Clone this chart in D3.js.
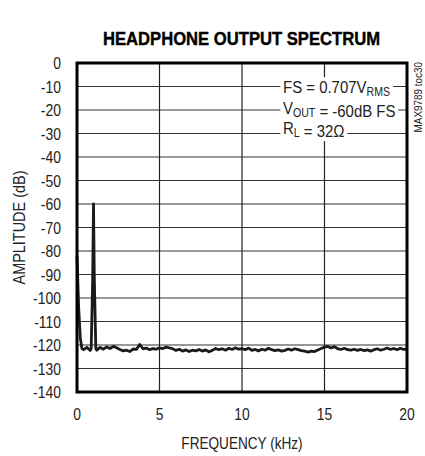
<!DOCTYPE html>
<html lang="en">
<head>
    <meta charset="UTF-8">
    <title>Headphone Output Spectrum</title>
    <script src="https://d3js.org/d3.v7.min.js"></script>
    <style>
        body { margin: 0; background: #fff; }
        text { font-family: "Liberation Sans", Arial, sans-serif; fill: #222; }
    </style>
</head>
<body>
<script>
    // tick values
    const xTicks = [0, 5, 10, 15, 20];
    const yTicks = [0, -10, -20, -30, -40, -50, -60, -70, -80, -90, -100, -110, -120, -130, -140];

    // DC roll-off at the left edge
    const dcFreq = [0, 0.1, 0.2, 0.3];
    const dcDb = [-82, -104, -117, -121.5];

    // 1kHz test tone
    const toneFreq = [0.86, 0.95, 1.0, 1.05, 1.14];
    const toneDb = [-121.5, -92, -60, -92, -121.5];

    // noise floor, read every 0.2kHz from 0.4kHz to 20kHz
    const noiseStart = 0.4;
    const noiseStep = 0.2;
    const noiseDb = [
        -122.0, -121.0, -122.3, -121.5, -122.2, -121.0, -121.8, -120.8, -121.5, -120.6,
        -121.2, -121.9, -122.5, -122.2, -122.8, -121.7, -121.9, -119.8, -121.6, -121.3,
        -122.0, -121.5, -121.8, -121.2, -121.5, -120.9, -121.2, -121.6, -122.3, -121.8,
        -122.6, -122.1, -122.8, -122.2, -122.5, -121.9, -122.6, -122.1, -122.9, -122.3,
        -121.5, -122.0, -121.6, -122.2, -121.4, -121.9, -121.2, -121.8, -121.5, -122.0,
        -121.3, -122.3, -121.9, -122.5, -121.8, -122.2, -121.4, -122.0, -122.4, -122.1,
        -122.6, -122.3, -121.7, -122.2, -121.6, -122.0, -122.4, -122.6, -123.0, -122.6,
        -122.8, -122.1, -121.5, -120.9, -120.6, -121.3, -120.7, -121.6, -121.9, -121.4,
        -122.0, -122.2, -121.8, -122.3, -121.9, -122.4, -122.1, -122.6, -122.0, -121.6,
        -122.2, -121.8, -121.3, -121.9, -121.5, -122.0, -121.4, -121.9, -121.7
    ];

    const width = 425;
    const height = 456;
    const margin = { top: 63, right: 18, bottom: 64, left: 77 };
    const plotW = width - margin.left - margin.right;
    const plotH = height - margin.top - margin.bottom;
    const squeeze = 0.82; // narrow the regular face to look condensed

    const svg = d3.select("body").append("svg")
        .attr("width", width)
        .attr("height", height);

    const x = d3.scaleLinear().domain([0, 20]).range([margin.left, margin.left + plotW]);
    const y = d3.scaleLinear().domain([0, -140]).range([margin.top, margin.top + plotH]);

    function narrowText(px, py, str, size, anchor, k) {
        return svg.append("text")
            .attr("transform", `translate(${px},${py}) scale(${k || squeeze},1)`)
            .attr("text-anchor", anchor)
            .attr("font-size", size)
            .text(str);
    }

    // grid
    const grid = svg.append("g");
    grid.selectAll(".hg").data(yTicks.slice(1, -1)).enter().append("line")
        .attr("x1", margin.left).attr("x2", margin.left + plotW)
        .attr("y1", d => y(d)).attr("y2", d => y(d))
        .attr("stroke", "#333").attr("stroke-width", 1.2);
    grid.selectAll(".vg").data(xTicks.slice(1, -1)).enter().append("line")
        .attr("y1", margin.top).attr("y2", margin.top + plotH)
        .attr("x1", d => x(d)).attr("x2", d => x(d))
        .attr("stroke", "#222").attr("stroke-width", 1.2);

    // spectrum trace
    const trace = [];
    dcFreq.forEach((f, i) => trace.push({ f: f, db: dcDb[i] }));
    noiseDb.forEach((db, i) => {
        const f = noiseStart + i * noiseStep;
        if (f < 0.85 || f > 1.15) trace.push({ f: f, db: db });
    });
    toneFreq.forEach((f, i) => trace.push({ f: f, db: toneDb[i] }));
    trace.sort((a, b) => a.f - b.f);

    const line = d3.line()
        .x(d => x(d.f))
        .y(d => y(d.db));

    svg.append("path")
        .datum(trace)
        .attr("fill", "none")
        .attr("stroke", "#1a1a1a")
        .attr("stroke-width", 2.8)
        .attr("stroke-linejoin", "round")
        .attr("d", line);

    // legend with white backing
    const legendLines = [
        [["FS = 0.707V", false], ["RMS", true]],
        [["V", false], ["OUT", true], [" = -60dB FS", false]],
        [["R", false], ["L", true], [" = 32\u03A9", false]]
    ];
    const legend = svg.append("g");
    legendLines.forEach((parts, i) => {
        const t = legend.append("text")
            .attr("transform", `translate(283,${93 + i * 20.5}) scale(0.88,1)`)
            .attr("font-size", 17);
        parts.forEach(p => {
            t.append("tspan")
                .attr("font-size", p[1] ? 12 : 17)
                .attr("dy", p[1] ? 3 : 0)
                .text(p[0]);
            if (p[1]) t.append("tspan").attr("dy", -3).text("");
        });
        const bb = t.node().getBBox();
        legend.insert("rect", "text")
            .attr("transform", `translate(283,${93 + i * 20.5}) scale(0.88,1)`)
            .attr("x", bb.x - 3).attr("y", bb.y - 1)
            .attr("width", bb.width + 6).attr("height", bb.height + 2)
            .attr("fill", "#fff");
    });

    // frame
    svg.append("rect")
        .attr("x", margin.left).attr("y", margin.top)
        .attr("width", plotW).attr("height", plotH)
        .attr("fill", "none").attr("stroke", "#000").attr("stroke-width", 3);

    // tick labels
    yTicks.forEach(d => narrowText(61, y(d) + 6, String(d), 17, "end"));
    xTicks.forEach(d => narrowText(x(d), 420, String(d), 17, "middle"));

    narrowText((margin.left * 2 + plotW) / 2, 449, "FREQUENCY (kHz)", 17, "middle", 0.8);

    svg.append("text")
        .attr("transform", `translate(25,${margin.top + plotH / 2}) rotate(-90) scale(0.85,1)`)
        .attr("text-anchor", "middle")
        .attr("font-size", 17)
        .text("AMPLITUDE (dB)");

    svg.append("text")
        .attr("x", 241.5)
        .attr("y", 45)
        .attr("text-anchor", "middle")
        .attr("font-size", 18.5)
        .attr("font-weight", "bold")
        .attr("textLength", 277)
        .attr("lengthAdjust", "spacingAndGlyphs")
        .style("fill", "#000")
        .style("stroke", "#000")
        .style("stroke-width", 0.4)
        .text("HEADPHONE OUTPUT SPECTRUM");

    svg.append("text")
        .attr("transform", "translate(422,62) rotate(-90) scale(0.9,1)")
        .attr("text-anchor", "end")
        .attr("font-size", 11)
        .text("MAX9789 toc30");
</script>
</body>
</html>
